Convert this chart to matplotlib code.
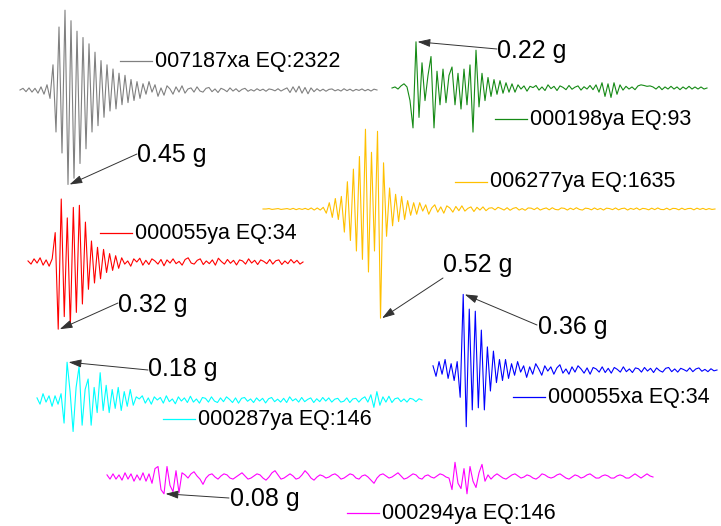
import numpy as np
import matplotlib.pyplot as plt

plt.rcParams['font.family'] = ['Liberation Sans', 'DejaVu Sans']

# ground acceleration, in thousandths of g
gray_mg = [0, 8, -8, 10, -10, 8, -15, 15, -20, 25, -40,
           120, -200, 300, -300, 380, -450, 330, -420, 280, -350,
           250, -280, 220, -200, 180, -170, 140, -130, 120, -100,
           100, -90, 80, -70, 70, -60, 50, -50, 40, -40,
           30, -20, 40, -10, 25, -30, 10, -25, 20, 5,
           -20, 15, -10, 20, -15, 5, 10, -10, 15, -5,
           -10, 8, 12, -8, 5, -12, 8, 2, -8, 10,
           -5, 6, -8, 3, 8, -6, 2, -5, 6, -3,
           4, -6, 5, 2, -4, 6, -5, 3, 10, -12,
           15, -10, 18, -15, 12, -18, 10, -8, 6, -5,
           4, -6, 3, 5, -4, 2, -5, 6, -3, 4,
           -5, 3, -2, 5, -4, 3, -5, 4, 0]

green_mg = [0, 5, -5, 10, 20, 5,
            -60, -190, 220, -140, 120, -60, 60, 150, -190, 80,
            -80, 90, -70, 60, 100, -80, 70, -100, 90, -80,
            110, -210, 180, -90, 70, -60, 50, -40, 40, -30,
            35, -25, 25, -20, 20, -20,
            15, -5, 10, -15, 8, 2, 12, -10, 5, -12, 15, -3, 8,
            -12, 10, 3, -8, 12, -6, 4, 10, -10, 6, -5, 12, -8,
            15, -20, 25, -40, 20, -45, 25, -30, 15,
            -10, 8, -5, 5, -8, 10, 15, 12, 8, 10, 5, -5, 8, -8, 5,
            -5, 8, -5, 5, -8, 5, -5, 8, -5, 5, -5, 5, -5, 0]

gold_mg = [0, 0, 2, -2, 0, 2, -2, 0, 2, -2, 3, -3, 2, -2, 3, -3, 5, -5, 5, -5, 8,
           -20, 30, -40, 50, -50, 60, -110, 130, -150, 190,
           -200, 250, -240, 380, -300, 270, -200, 370, -520, 220,
           -130, 100, -80, 70, -60, 60, -50, 40, -30, 30,
           -25, 30, -10, 20, -25, 5, 20, -15, 10, -20, 15, 5, -15,
           12, -8, 15, -10, 3, 10, -12, 8, -5, 10, -8, 4,
           6, -4, 8, 2, -5, 6, -6, 3, 7, -5,
           2, -6, 5, 4, -3, 6, -5, 1, 5, -4,
           6, -2, -4, 5, 3, -5, 4, -3, 6, -2,
           -5, 4, 2, -4, 5, -3, 3, -5, 4, 2,
           -3, 5, -4, 2, 4, -5, 3, -2, 5, -4,
           3, 1, -4, 4, -3, 5, -2, -3, 4, -4,
           3, 2, -4, 4, -3, 2, 3, -4, 4, -2,
           3, -3, 2, -2, 0]

red_mg = [5, -10, 15, -5, 20, -15, 10, -20, 15,
          140, -320, 300, -260, 210, -310, 260, -240, 270, -200, 190,
          -130, 100, -100, 70, -80, 60, -50, 40, -40, 30, -30,
          20, -10, 5, -20, 15, 0, 18, -15, 8, -12,
          15, 5, -10, 12, -18, 10, -5, 15, -8, 3,
          -15, 12, 20, -5, -10, 8, 15, -12, 5, -8,
          10, -15, 18, 2, -10, 12, -6, 8, -14, 10,
          5, -10, 15, -5, 8, -12, 10, 3, -8, 12,
          -10, 6, 10, -12, 5, -8, 12, -5, 8, -10, 0]

blue_mg = [20, -30, 40, -20, 50, -40, 30, -50, 40,
           -130, 360, -270, 290, -190, 280, -180, 190, -190, 110,
           -100, 90, -60, 50, -50, 50, -40,
           30, -25, 40, -10, 20, -35, 15, -20, 30, 5,
           -25, 20, -5, 15, -20, 10, 25, -15, 5, -20,
           15, -10, 20, 5, -15, 10, -20, 12, 5, -10,
           15, -12, 8, -15, 12, 3, -10, 15, -8, 5,
           -12, 10, 6, -10, 12, -5, 8, -12, 10, -3,
           -10, 8, 12, -8, 5, -10, 8, 2, -6, 10,
           -8, 5, 10, -6, 3, -8, 6, -4, 0]

cyan_mg = [10, -20, 30, -10, 20, -30, 20, -20, 30,
           -110, 180, 40, -150, 60, 160, -120, 50, 100, -120, 60, -60,
           130, -50, 70, -60, 50, -40, 60, -50, 40, -30, 50,
           -25, 15, 5, 20, -15, 10, -20, 15, 0, 12,
           -15, 20, -8, 5, -18, 15, -5, 10, -12, 18,
           -10, 5, -15, 12, 8, -10, 15, -5, -12, 10,
           -8, 15, 3, -12, 10, -15, 8, 12, -6, 5,
           -12, 10, -5, 8, -14, 6, 12, -8, 4, -10,
           8, -12, 15, -4, 6, -10, 12, -8, 3, 10,
           -12, 6, -8, 12, -5, 10, -10, 4, 8, -10,
           -6, 10, -12, 5, 8, -10, 6, 15, -10, 25,
           -35, 40, -25, 15, -10, 18, -12, 6, 10, -8,
           5, -10, 8, 4, -8, 6, 0]

magenta_mg = [10, -10, 15, -10, 10, -15, 20, -10, 15, -20, 10, -15, 20, -20, 15,
              -30, 40, 50, -60, -80, 50, -40, -70, 30, -75, 20, 10,
              -5, 15, 25, 5, -10, -35, -5, 10, 15, 0,
              -10, 5, 15, 10, -5, -10, 0, 10, 20, 5,
              -10, -5, 5, 15, 10, -5, -15, 0, 20, 30,
              10, -10, -5, 5, 15, 5, -10, -5, 10, 30,
              15, -5, -15, 0, 10, 5, -5, 0, 10, 15,
              5, -10, -5, 5, 15, 10, -5, -10, 5, 10,
              0, -15, -30, -5, 10, 15, 5, -5, 0, 10,
              20, 5, -10, -5, 5, 15, 10, -5, -10, 5,
              10, 0, -5, 5, 15, 10, 0, -5,
              -60, 70, -30, -55, 40, -80, 50, -20, -50, 20, 60, -20, 10,
              -10, 5, 15, 5, -5, -10, 0, 10, 15, 5,
              -5, 0, 10, 5, -5, -10, 0, 15, 10, 0,
              -5, 0, 10, 15, 5, -5, -10, 0, 10, 5,
              -5, 0, 10, 15, 5, -5, -5, 5, 10, 5,
              -5, -5, 5, 10, 5, -5, -5, 5, 15, 5,
              -5, 5, 15, 5, 0]

records = ['007187xa EQ:2322', '000198ya EQ:93', '006277ya EQ:1635', '000055ya EQ:34',
           '000055xa EQ:34', '000287ya EQ:146', '000294ya EQ:146']
pga_labels = ['0.45 g', '0.22 g', '0.52 g', '0.32 g', '0.36 g', '0.18 g', '0.08 g']
series = [gray_mg, green_mg, gold_mg, red_mg, blue_mg, cyan_mg, magenta_mg]
colors = ['#808080', '#158a15', '#ffc000', '#ff0000', '#0000ff', '#00ffff', '#ff00ff']

# placement in pixels: trace start/end/baseline, legend line start, label text pos, arrow start
layout = [
    (20, 377, 90, (120, 61), (137, 155), (137, 154)),
    (392, 707, 88, (495, 119), (497, 51), (497, 49)),
    (263, 715, 209, (455, 182), (443, 265), (443, 278)),
    (28, 303, 262, (100, 233), (118, 305), (118, 303)),
    (433, 717, 370, (513, 397), (538, 327), (537, 325)),
    (37, 422, 400, (163, 419), (148, 369), (148, 370)),
    (107, 653, 477, (347, 513), (230, 499), (229, 498)),
]
px_per_g = 210

fig = plt.figure(figsize=(7.21, 5.26), dpi=100)
ax = fig.add_axes([0, 0, 1, 1])
ax.set_xlim(0, 721)
ax.set_ylim(526, 0)
ax.axis('off')

for vals, name, pga, c, (x0, x1, base, leg, txt, start) in zip(series, records, pga_labels, colors, layout):
    a = np.array(vals) / 1000
    x = np.linspace(x0, x1, len(a))
    y = base - a * px_per_g
    ax.plot(x, y, color=c, lw=0.8)

    ax.plot([leg[0], leg[0] + 32], [leg[1], leg[1]], color=c, lw=0.9)
    ax.text(leg[0] + 35, leg[1], name, va='center', ha='left', fontsize=15.5)

    k = np.argmax(np.abs(a))
    ax.annotate('', xy=(x[k] + 1.5, y[k]), xytext=start,
                arrowprops=dict(arrowstyle='-|>,head_length=0.7,head_width=0.22',
                                color='#333333', lw=0.7, shrinkA=0, shrinkB=0,
                                mutation_scale=11))
    ax.text(txt[0], txt[1], pga, va='center', ha='left', fontsize=18)

fig.savefig('out.png', dpi=100)
